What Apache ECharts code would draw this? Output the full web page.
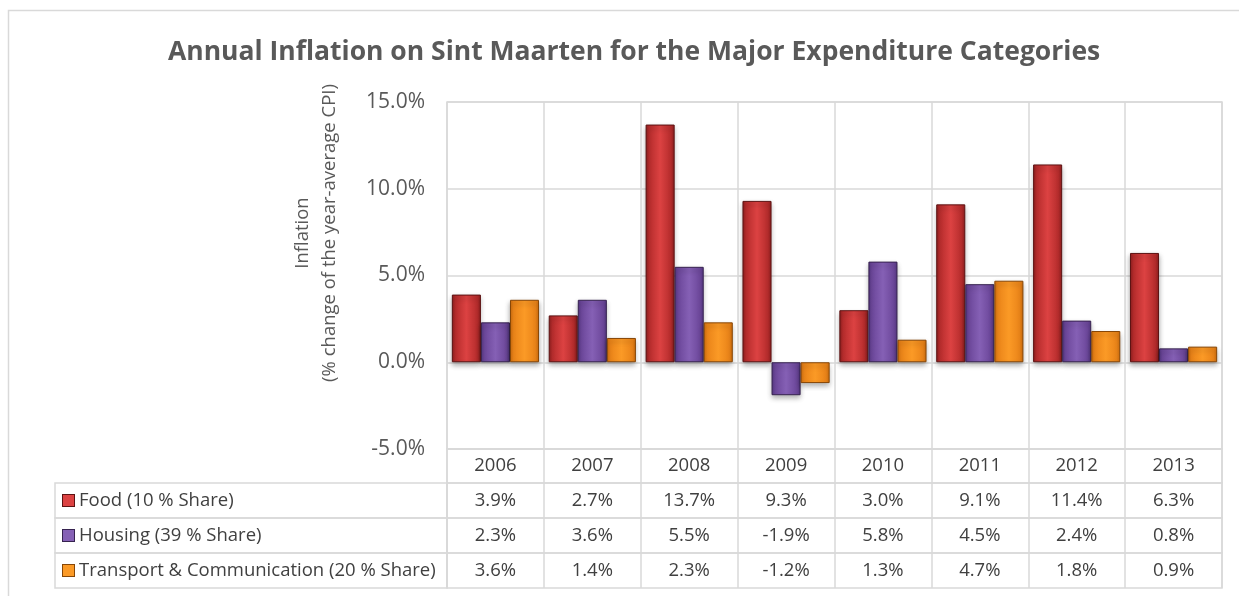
<!DOCTYPE html>
<html>
<head>
<meta charset="utf-8">
<script src="https://cdn.jsdelivr.net/npm/echarts@6/dist/echarts.min.js"></script>
<style>
  html, body { margin: 0; padding: 0; background: #fff; }
  #main { width: 1239px; height: 596px; }
</style>
</head>
<body>
<div id="main"></div>
<script>
var years = ['2006', '2007', '2008', '2009', '2010', '2011', '2012', '2013'];
var seriesNames = ['Food (10 % Share)', 'Housing (39 % Share)', 'Transport & Communication (20 % Share)'];
var food = [3.9, 2.7, 13.7, 9.3, 3.0, 9.1, 11.4, 6.3];
var housing = [2.3, 3.6, 5.5, -1.9, 5.8, 4.5, 2.4, 0.8];
var transport = [3.6, 1.4, 2.3, -1.2, 1.3, 4.7, 1.8, 0.9];
var yTicks = [-5, 0, 5, 10, 15];

var seriesData = [food, housing, transport];
// base, light centre, dark edge, border
var palette = [
	['#b52c2c', '#dc4242', '#8e1e1e', '#5c1212'],
	['#6c479a', '#8560b5', '#553783', '#36224f'],
	['#ea8419', '#fb9a26', '#cf6d0c', '#864606']
];

var font = 'Open Sans';
var gridColor = '#d9d9d9';
var plotLeft = 447, plotRight = 17, plotTop = 102, plotBottom = 449;
var labelLeft = 55;
var rows = [[449, 483], [483, 518], [518, 553], [553, 588]];

var myChart = echarts.init(document.getElementById('main'));

function fmt(v) {
	return v.toFixed(1) + '%';
}

var grids = [{
	left: plotLeft, right: plotRight, top: plotTop, height: plotBottom - plotTop,
	show: true, borderColor: gridColor, borderWidth: 1.5
}];
var xAxes = [{
	type: 'category', gridIndex: 0, data: years,
	axisLine: { show: false }, axisTick: { show: false }, axisLabel: { show: false },
	splitLine: { show: true, interval: 0, lineStyle: { color: gridColor, width: 1.5 } }
}];
var yAxes = [{
	type: 'value', gridIndex: 0, min: yTicks[0], max: yTicks[yTicks.length - 1], interval: 5,
	axisLine: { show: false }, axisTick: { show: false },
	axisLabel: {
		formatter: fmt, color: '#595959', fontFamily: font, fontSize: 21, margin: 22
	},
	splitLine: { lineStyle: { color: gridColor, width: 1.5 } },
	name: 'Inflation\n(% change of the year-average CPI)',
	nameLocation: 'middle', nameGap: 104, nameRotate: 90,
	nameTextStyle: {
		color: '#595959', fontFamily: font, fontSize: 18.5, lineHeight: 27,
		padding: [0, 0, 0, 85]
	}
}];

// data table rows: year header + one row per series
var tableRows = [years].concat(seriesData.map(function (d) { return d.map(fmt); }));
var graphics = [{
	type: 'rect', shape: { x: 8.5, y: 10.5, width: 1240, height: 600 },
	style: { fill: 'none', stroke: gridColor, lineWidth: 1.5 }, silent: true
}];

tableRows.forEach(function (cells, i) {
	var gi = i + 1;
	var r = rows[i];
	grids.push({
		left: plotLeft, right: plotRight, top: r[0], height: r[1] - r[0],
		show: true, borderColor: gridColor, borderWidth: 1.5
	});
	xAxes.push({
		type: 'category', gridIndex: gi, data: cells,
		axisLine: { show: false }, axisTick: { show: false },
		axisLabel: {
			inside: true, interval: 0, verticalAlign: 'middle',
			margin: (r[1] - r[0]) / 2, color: '#404040', fontFamily: font, fontSize: 18.5
		},
		splitLine: { show: true, interval: 0, lineStyle: { color: gridColor, width: 1.5 } }
	});
	if (i === 0) {
		yAxes.push({ type: 'value', gridIndex: gi, show: false, min: 0, max: 1 });
	} else {
		var p = palette[i - 1];
		yAxes.push({
			type: 'category', gridIndex: gi, data: [seriesNames[i - 1]],
			axisLine: { show: false }, axisTick: { show: false },
			axisLabel: {
				align: 'left', margin: plotLeft - 63,
				formatter: '{i|}{t|' + seriesNames[i - 1] + '}',
				rich: {
					i: { width: 11, height: 11, backgroundColor: p[1], borderColor: p[3], borderWidth: 1 },
					t: { color: '#404040', fontFamily: font, fontSize: 18.5, padding: [0, 0, 0, 5] }
				}
			}
		});
		graphics.push({
			type: 'rect', shape: { x: labelLeft, y: r[0], width: plotLeft - labelLeft, height: r[1] - r[0] },
			style: { fill: 'none', stroke: gridColor, lineWidth: 1.5 }, silent: true
		});
	}
});

var series = seriesData.map(function (d, i) {
	var p = palette[i];
	return {
		name: seriesNames[i],
		type: 'bar',
		xAxisIndex: 0, yAxisIndex: 0,
		barGap: '0%', barCategoryGap: '10%',
		itemStyle: {
			color: new echarts.graphic.LinearGradient(0, 0, 1, 0, [
				{ offset: 0, color: p[2] },
				{ offset: 0.12, color: p[0] },
				{ offset: 0.5, color: p[1] },
				{ offset: 0.88, color: p[0] },
				{ offset: 1, color: p[2] }
			]),
			borderColor: p[3], borderWidth: 1,
			shadowColor: 'rgba(0,0,0,0.3)', shadowBlur: 5, shadowOffsetY: 3
		},
		data: d
	};
});

option = {
	backgroundColor: '#fff',
	animation: false,
	title: {
		text: 'Annual Inflation on Sint Maarten for the Major Expenditure Categories',
		left: 163, top: 34,
		textStyle: { color: '#595959', fontFamily: font, fontSize: 26.5, fontWeight: 'bold' }
	},
	grid: grids,
	xAxis: xAxes,
	yAxis: yAxes,
	graphic: graphics,
	series: series
};

myChart.setOption(option);
</script>
</body>
</html>
